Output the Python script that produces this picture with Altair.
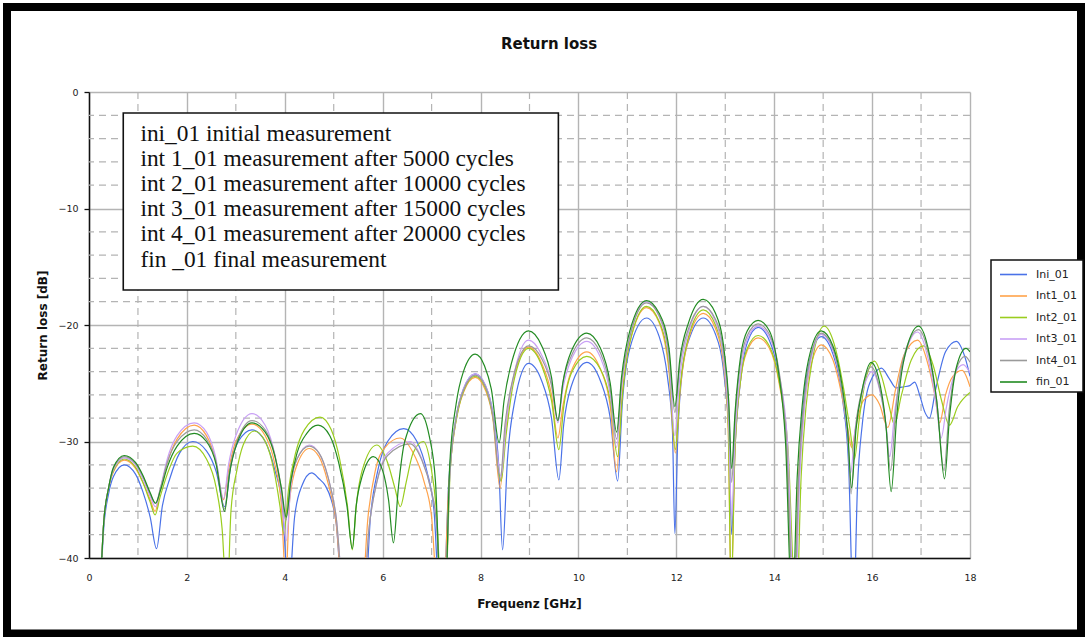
import altair as alt
import pandas as pd

SERIES = ["Ini_01", "Int1_01", "Int2_01", "Int3_01", "Int4_01", "fin_01"]
COLORS = ["#4a72e8", "#ffa24a", "#9acd1e", "#c9a0f5", "#9a9a9a", "#228b22"]

ini_f = [0.22, 0.3, 0.4, 0.5, 0.72, 0.95, 1.1, 1.25, 1.38,
         1.5, 1.65, 1.85, 2.12, 2.4, 2.6, 2.77,
         2.9, 3.05, 3.33, 3.6, 3.8, 3.95, 4.08,
         4.2, 4.35, 4.55, 4.7, 4.83, 4.95, 5.05, 5.17,
         5.62, 5.75, 5.9, 6.1, 6.43, 6.7, 6.9, 7.05, 7.17,
         7.22, 7.35, 7.5, 7.65, 7.89, 8.1, 8.25, 8.37, 8.45,
         8.55, 8.7, 8.98, 9.25, 9.45, 9.6,
         9.7, 9.85, 10.17, 10.45, 10.65, 10.8,
         10.9, 11.05, 11.39, 11.65, 11.82, 11.92, 11.97,
         12.03, 12.12, 12.28, 12.55, 12.8, 12.98, 13.08, 13.13,
         13.2, 13.32, 13.45, 13.67, 13.9, 14.1, 14.25, 14.4,
         14.48, 14.55, 14.7, 14.96, 15.2, 15.4, 15.52, 15.62,
         15.7, 15.8, 15.95, 16.19, 16.35, 16.49, 16.65, 16.77, 16.87, 16.97,
         17.08, 17.17, 17.3, 17.5, 17.72, 17.9, 18.0]
ini_v = [-44, -37.5, -34.5, -33.0, -32.0, -32.8, -34.3, -36.5, -39.2,
         -35.5, -33.2, -31.0, -30.0, -30.8, -32.6, -35.6,
         -32.0, -30.0, -29.0, -30.0, -32.5, -35.5, -43,
         -36.5, -33.8, -32.7, -33.2, -33.8, -35.0, -37.0, -43,
         -45, -36.5, -32.5, -30.0, -28.9, -30.0, -32.5, -36.0, -45,
         -46, -33.5, -28.0, -25.5, -24.2, -25.2, -27.5, -32.0, -39.3,
         -31.5, -26.5, -23.3, -24.8, -28.0, -33.3,
         -28.5, -25.3, -23.2, -24.8, -28.0, -33.4,
         -26.5, -22.0, -19.4, -21.0, -24.5, -29.0, -37.9,
         -29.5, -24.0, -21.0, -19.4, -20.8, -24.5, -30.0, -38.0,
         -30.5, -24.5, -21.5, -20.2, -21.3, -24.5, -30.0, -45,
         -36.0, -29.5, -23.5, -21.0, -22.5, -26.5, -32.0, -45,
         -34.0, -28.5, -25.0, -23.7, -24.6, -25.4, -25.3, -25.2, -24.9, -26.0,
         -27.5, -28.0, -25.5, -22.3, -21.4, -22.8, -24.4]

int1_f = [0.22, 0.3, 0.4, 0.5, 0.72, 0.95, 1.1, 1.25, 1.35,
          1.45, 1.6, 1.8, 2.15, 2.4, 2.58, 2.75,
          2.85, 3.0, 3.33, 3.6, 3.8, 3.93, 4.02,
          4.1, 4.25, 4.5, 4.7, 4.88, 5.05, 5.2,
          5.55, 5.7, 5.85, 6.05, 6.36, 6.6, 6.85, 7.0, 7.14,
          7.22, 7.35, 7.5, 7.65, 7.89, 8.1, 8.25, 8.4,
          8.5, 8.65, 8.98, 9.25, 9.45, 9.58,
          9.68, 9.85, 10.17, 10.45, 10.65, 10.78,
          10.88, 11.05, 11.39, 11.65, 11.85, 11.98,
          12.08, 12.25, 12.55, 12.8, 12.98, 13.06, 13.12,
          13.2, 13.32, 13.45, 13.67, 13.9, 14.1, 14.25, 14.4,
          14.5, 14.6, 14.72, 14.96, 15.2, 15.38, 15.5, 15.58,
          15.68, 15.82, 16.0, 16.15, 16.32, 16.48, 16.65, 16.93, 17.15, 17.28,
          17.38, 17.5, 17.65, 17.84, 18.0]
int1_v = [-44, -37.0, -34.0, -32.6, -31.6, -32.3, -33.5, -35.0, -36.0,
          -34.3, -31.8, -29.8, -28.6, -29.5, -31.5, -35.0,
          -32.5, -30.0, -28.5, -29.5, -32.0, -35.5, -42,
          -35.0, -32.0, -30.6, -31.3, -33.5, -37.0, -44,
          -45, -36.5, -32.5, -30.5, -29.7, -30.8, -33.5, -36.5, -45,
          -46, -33.8, -28.2, -25.8, -24.5, -25.6, -28.0, -34.0,
          -29.5, -25.0, -21.9, -23.3, -26.0, -29.7,
          -27.0, -24.0, -22.3, -23.8, -27.0, -32.6,
          -26.5, -21.5, -18.5, -19.8, -24.0, -31.0,
          -25.5, -21.2, -19.0, -20.3, -24.0, -29.0, -43,
          -30.5, -24.5, -22.2, -21.1, -22.0, -25.0, -30.0, -45,
          -33.0, -27.5, -24.0, -21.7, -23.0, -26.0, -28.8, -30.5,
          -28.5, -26.5, -26.0, -26.8, -28.8, -25.5, -22.6, -21.3, -23.5, -26.0,
          -28.4, -26.0, -24.4, -23.9, -25.3]

int2_f = [0.22, 0.3, 0.4, 0.5, 0.72, 0.95, 1.1, 1.25, 1.35,
          1.45, 1.6, 1.8, 2.12, 2.4, 2.6, 2.72, 2.82,
          2.9, 3.02, 3.15, 3.38, 3.6, 3.78, 3.9, 3.98,
          4.08, 4.22, 4.4, 4.72, 4.95, 5.12, 5.28, 5.38,
          5.46, 5.58, 5.88, 6.1, 6.25, 6.36, 6.48, 6.62, 6.83, 6.98, 7.1, 7.22,
          7.28, 7.38, 7.52, 7.67, 7.89, 8.1, 8.25, 8.42,
          8.52, 8.67, 8.98, 9.25, 9.45, 9.6,
          9.7, 9.87, 10.17, 10.45, 10.65, 10.8,
          10.9, 11.05, 11.39, 11.65, 11.85, 11.98,
          12.08, 12.25, 12.55, 12.8, 12.98, 13.06, 13.12,
          13.2, 13.32, 13.45, 13.67, 13.9, 14.1, 14.28, 14.45,
          14.55, 14.65, 14.78, 15.02, 15.25, 15.42, 15.55, 15.64,
          15.74, 15.88, 16.05, 16.2, 16.35, 16.45, 16.6, 16.8, 17.05, 17.25,
          17.42, 17.58, 17.75, 18.0]
int2_v = [-44, -37.0, -34.0, -32.5, -31.5, -32.2, -33.5, -35.2, -36.3,
          -34.8, -32.8, -31.0, -30.4, -31.5, -34.0, -37.5, -44,
          -36.0, -32.5, -30.3, -29.1, -30.0, -32.5, -35.5, -37.9,
          -34.0, -31.0, -29.0, -27.9, -29.0, -31.5, -35.5, -39.3,
          -35.5, -32.5, -30.3, -31.8, -34.0, -35.6, -33.5, -31.0, -30.0, -32.0, -36.0, -45,
          -44, -32.5, -27.8, -25.5, -24.4, -25.4, -27.8, -33.4,
          -29.5, -25.0, -22.0, -23.5, -26.5, -30.7,
          -27.0, -24.0, -22.7, -23.8, -26.5, -31.3,
          -26.0, -21.5, -18.4, -19.7, -23.5, -30.7,
          -25.2, -21.0, -18.7, -20.0, -23.5, -28.5, -43,
          -30.5, -24.5, -22.0, -20.9, -21.8, -24.8, -30.5, -45,
          -33.0, -27.0, -23.0, -20.1, -22.0, -25.5, -29.0, -31.5,
          -28.0, -24.5, -23.1, -24.5, -27.0, -28.5, -26.0, -23.0, -21.8, -23.5,
          -26.5, -28.6, -27.0, -25.8]

int3_f = [0.22, 0.3, 0.4, 0.5, 0.72, 0.95, 1.1, 1.25, 1.36,
          1.46, 1.6, 1.8, 2.15, 2.4, 2.58, 2.75,
          2.85, 3.0, 3.33, 3.6, 3.8, 3.93, 4.03,
          4.12, 4.25, 4.5, 4.7, 4.88, 5.05, 5.22,
          5.58, 5.72, 5.88, 6.1, 6.56, 6.8, 6.98, 7.1, 7.2,
          7.26, 7.37, 7.5, 7.65, 7.89, 8.1, 8.25, 8.42,
          8.52, 8.67, 8.98, 9.25, 9.45, 9.58,
          9.68, 9.85, 10.17, 10.45, 10.65, 10.78,
          10.88, 11.05, 11.39, 11.65, 11.85, 11.97,
          12.07, 12.25, 12.55, 12.8, 12.98, 13.07, 13.13,
          13.2, 13.32, 13.45, 13.67, 13.9, 14.1, 14.27, 14.42,
          14.52, 14.62, 14.75, 14.96, 15.2, 15.38, 15.5, 15.56,
          15.65, 15.8, 16.0, 16.15, 16.28, 16.36, 16.46, 16.62, 16.93, 17.15,
          17.3, 17.41, 17.52, 17.68, 17.86, 18.0]
int3_v = [-44, -37.0, -34.0, -32.4, -31.4, -32.0, -33.2, -34.7, -35.6,
          -34.0, -31.5, -29.5, -28.4, -29.2, -31.2, -34.9,
          -32.0, -29.5, -27.6, -28.6, -31.2, -34.5, -38.5,
          -34.0, -31.5, -30.3, -31.0, -33.0, -36.5, -44,
          -45, -37.5, -33.5, -31.0, -30.0, -31.5, -34.0, -37.0, -45,
          -45, -33.0, -28.0, -25.5, -24.2, -25.2, -27.5, -33.0,
          -28.5, -24.5, -21.3, -22.6, -25.0, -28.4,
          -25.5, -23.0, -21.4, -22.8, -26.0, -30.5,
          -25.5, -21.0, -18.0, -19.3, -23.0, -29.5,
          -24.5, -20.6, -18.4, -19.7, -23.5, -28.5, -36.5,
          -29.5, -23.8, -21.2, -20.1, -21.0, -24.2, -30.0, -45,
          -33.0, -27.0, -23.0, -20.8, -22.2, -25.5, -29.5, -32.7,
          -29.0, -25.8, -24.0, -25.5, -28.5, -31.3, -27.5, -23.5, -20.6, -23.0,
          -26.5, -29.7, -27.0, -24.3, -23.4, -24.1]

int4_f = [0.22, 0.3, 0.4, 0.5, 0.72, 0.95, 1.1, 1.25, 1.36,
          1.46, 1.6, 1.8, 2.15, 2.4, 2.6, 2.77,
          2.87, 3.02, 3.33, 3.6, 3.8, 3.93, 4.02,
          4.12, 4.25, 4.5, 4.7, 4.88, 5.05, 5.22,
          5.58, 5.72, 5.88, 6.1, 6.56, 6.8, 6.98, 7.1, 7.2,
          7.26, 7.37, 7.5, 7.65, 7.89, 8.1, 8.25, 8.4,
          8.5, 8.65, 8.98, 9.25, 9.45, 9.58,
          9.68, 9.85, 10.17, 10.45, 10.65, 10.78,
          10.88, 11.05, 11.39, 11.65, 11.85, 11.97,
          12.07, 12.25, 12.55, 12.8, 12.98, 13.07, 13.13,
          13.2, 13.32, 13.45, 13.67, 13.9, 14.1, 14.25, 14.4,
          14.5, 14.6, 14.73, 14.96, 15.2, 15.38, 15.5, 15.57,
          15.66, 15.8, 15.98, 16.13, 16.28, 16.38, 16.48, 16.63, 16.95, 17.17,
          17.32, 17.47, 17.57, 17.72, 17.9, 18.0]
int4_v = [-44, -37.0, -34.0, -32.3, -31.3, -31.9, -33.0, -34.5, -35.3,
          -34.0, -31.8, -30.0, -29.0, -29.8, -31.8, -35.8,
          -32.5, -30.0, -28.2, -29.0, -31.2, -34.0, -36.8,
          -33.5, -31.5, -30.4, -31.0, -33.0, -36.5, -44,
          -45, -37.5, -33.5, -31.2, -30.2, -31.6, -34.0, -37.0, -45,
          -45, -33.0, -28.0, -25.6, -24.3, -25.3, -27.8, -33.4,
          -28.5, -24.8, -21.8, -22.9, -25.2, -28.2,
          -25.0, -22.7, -21.1, -22.4, -25.5, -29.8,
          -25.0, -21.0, -18.1, -19.2, -22.5, -27.5,
          -23.5, -20.3, -18.4, -19.5, -22.8, -27.0, -33.5,
          -28.0, -23.0, -20.9, -19.9, -20.8, -24.0, -30.0, -45,
          -33.0, -27.0, -23.0, -20.7, -22.0, -25.5, -29.5, -34.5,
          -29.0, -25.5, -23.6, -25.0, -28.5, -32.5, -27.5, -23.0, -20.4, -22.8,
          -26.5, -32.5, -27.5, -23.8, -22.7, -23.2]

fin_f = [0.22, 0.3, 0.4, 0.5, 0.72, 0.95, 1.1, 1.25, 1.36,
         1.46, 1.6, 1.8, 2.15, 2.4, 2.6, 2.77,
         2.87, 3.02, 3.33, 3.6, 3.8, 3.93, 4.03,
         4.12, 4.25, 4.45, 4.68, 4.92, 5.1, 5.27, 5.38,
         5.46, 5.58, 5.81, 6.0, 6.12, 6.22, 6.32, 6.45, 6.77, 6.95, 7.08, 7.2,
         7.27, 7.37, 7.5, 7.65, 7.89, 8.08, 8.22, 8.38,
         8.48, 8.63, 8.98, 9.25, 9.45, 9.58,
         9.68, 9.85, 10.17, 10.45, 10.65, 10.78,
         10.88, 11.05, 11.39, 11.65, 11.85, 11.97,
         12.07, 12.25, 12.55, 12.8, 12.98, 13.07, 13.13,
         13.2, 13.32, 13.45, 13.67, 13.9, 14.08, 14.23, 14.37,
         14.47, 14.57, 14.7, 14.96, 15.2, 15.38, 15.5, 15.58,
         15.67, 15.8, 15.98, 16.13, 16.28, 16.39, 16.5, 16.65, 16.95, 17.17,
         17.32, 17.48, 17.58, 17.73, 17.92, 18.0]
fin_v = [-44, -37.0, -34.0, -32.2, -31.2, -31.8, -32.9, -34.4, -35.3,
         -34.2, -32.2, -30.4, -29.3, -30.0, -32.0, -36.0,
         -32.8, -30.2, -28.4, -29.2, -31.3, -34.0, -36.5,
         -33.5, -31.0, -29.3, -28.6, -29.5, -31.8, -35.5, -39.2,
         -35.5, -33.0, -31.3, -32.5, -35.0, -38.7, -34.0, -30.0, -27.6, -29.5, -33.5, -45,
         -45, -32.0, -26.8, -24.0, -22.5, -23.5, -25.5, -30.1,
         -26.5, -23.3, -20.5, -21.8, -24.5, -28.2,
         -25.0, -22.3, -20.7, -22.0, -25.0, -29.2,
         -24.5, -20.5, -17.9, -19.0, -22.0, -27.0,
         -23.0, -19.8, -17.8, -19.0, -22.3, -26.5, -32.3,
         -27.5, -22.5, -20.5, -19.6, -20.5, -23.8, -30.0, -45,
         -33.0, -27.0, -23.0, -20.5, -21.8, -25.0, -29.0, -34.0,
         -29.0, -25.5, -23.2, -24.5, -28.5, -34.3, -28.0, -23.0, -20.1, -22.5,
         -26.5, -33.2, -28.0, -23.5, -22.0, -22.3]

NOTE_LINES = [
    "ini_01 initial measurement",
    "int 1_01 measurement after 5000 cycles",
    "int 2_01 measurement after 10000 cycles",
    "int 3_01 measurement after 15000 cycles",
    "int 4_01 measurement after 20000 cycles",
    "fin _01 final measurement",
]
NOTE_Y = [-4.18, -6.35, -8.5, -10.67, -12.83, -15.0]
NOTE_X = 1.05
NOTE_BOX = {"x0": 0.70, "x1": 9.59, "y0": -1.8, "y1": -17.0}

X_MAJOR = [0, 2, 4, 6, 8, 10, 12, 14, 16, 18]
X_MINOR = [1, 3, 5, 7, 9, 11, 13, 15, 17]
Y_MAJOR = [0, -10, -20, -30, -40]
Y_MINOR = [-2, -4, -6, -8, -12, -14, -16, -18, -22, -24, -26, -28,
           -32, -34, -36, -38]

all_f = [ini_f, int1_f, int2_f, int3_f, int4_f, fin_f]
all_v = [ini_v, int1_v, int2_v, int3_v, int4_v, fin_v]
rows = []
for name, fs, vs in zip(SERIES, all_f, all_v):
    if len(fs) != len(vs):
        raise ValueError(f"length mismatch in {name}: {len(fs)} vs {len(vs)}")
    for f, v in zip(fs, vs):
        rows.append({"series": name, "f": f, "v": v})
df = pd.DataFrame(rows)

SANS = "DejaVu Sans"
xs = alt.Scale(domain=[0, 18], nice=False, zero=False)
ys = alt.Scale(domain=[-40, 0], nice=False, zero=False)

X_AXIS = alt.Axis(
    values=X_MAJOR, grid=True, gridColor="#b4b4b4", gridWidth=1.4,
    domainColor="#111111", domainWidth=1.5, ticks=False, tickSize=0,
    labelFlush=False,
    labelFont=SANS, labelFontSize=9.5, labelColor="#222222", labelPadding=14,
    title="Frequenz [GHz]", titleFont=SANS, titleFontSize=12,
    titleFontWeight="bold", titleColor="#111111",
    titleX=440, titleY=45, titleBaseline="middle", titleAlign="center")
Y_AXIS = alt.Axis(
    values=Y_MAJOR, grid=True, gridColor="#b4b4b4", gridWidth=1.4,
    domainColor="#111111", domainWidth=1.5, ticks=True, tickSize=5,
    tickColor="#111111", tickWidth=1.3, labelFlush=False,
    labelFont=SANS, labelFontSize=9.5, labelColor="#222222", labelPadding=6,
    title="Return loss [dB]", titleFont=SANS, titleFontSize=12,
    titleFontWeight="bold", titleColor="#111111", titleAngle=270,
    titleX=-47, titleY=233, titleBaseline="middle", titleAlign="center")

lines = alt.Chart(df).mark_line(
    clip=True, interpolate="monotone", strokeWidth=1.2
).encode(
    x=alt.X("f:Q", scale=xs, axis=X_AXIS),
    y=alt.Y("v:Q", scale=ys, axis=Y_AXIS),
    color=alt.Color("series:N", title=None,
                    scale=alt.Scale(domain=SERIES, range=COLORS),
                    legend=alt.Legend(
                        orient="none", legendX=902, legendY=168,
                        symbolType="M-1.59,0H1.59", symbolSize=289,
                        symbolStrokeWidth=1.6, symbolOffset=8,
                        labelOffset=13, labelFont=SANS, labelFontSize=11,
                        labelColor="#222222", padding=5, rowPadding=6.5,
                        strokeColor="#111111", fillColor="white")),
)

grid_x = alt.Chart(pd.DataFrame({"f": X_MINOR})).mark_rule(
    color="#b4b4b4", strokeWidth=1.2, strokeDash=[7, 5]
).encode(x=alt.X("f:Q", scale=xs, axis=X_AXIS))

grid_y = alt.Chart(pd.DataFrame({"v": Y_MINOR})).mark_rule(
    color="#b4b4b4", strokeWidth=1.2, strokeDash=[7, 5]
).encode(y=alt.Y("v:Q", scale=ys, axis=Y_AXIS))

box = alt.Chart(pd.DataFrame([NOTE_BOX])).mark_rect(
    fill="white", stroke="#111111", strokeWidth=1.6
).encode(
    x=alt.X("x0:Q", scale=xs, axis=X_AXIS), x2="x1:Q",
    y=alt.Y("y0:Q", scale=ys, axis=Y_AXIS), y2="y1:Q",
)

notes = alt.Chart(pd.DataFrame({"t": NOTE_LINES, "y": NOTE_Y,
                                "x": [NOTE_X] * len(NOTE_LINES)})).mark_text(
    align="left", baseline="alphabetic", font="Liberation Serif",
    fontSize=23.4, color="#111111"
).encode(
    x=alt.X("x:Q", scale=xs, axis=X_AXIS),
    y=alt.Y("y:Q", scale=ys, axis=Y_AXIS),
    text="t:N",
)

title = alt.Chart(pd.DataFrame({"t": ["Return loss"]})).mark_text(
    font=SANS, fontSize=15, fontWeight="bold", color="#111111",
    align="center", baseline="middle"
).encode(x=alt.value(460), y=alt.value(-48.5), text="t:N")

frame = alt.Chart(pd.DataFrame({"k": [1]})).mark_rect(
    filled=False, stroke="#000000", strokeWidth=8
).encode(x=alt.value(-82), x2=alt.value(992), y=alt.value(-85),
         y2=alt.value(541.5))

chart = alt.layer(grid_x, grid_y, lines, box, notes, title, frame).properties(
    width=881, height=466,
    padding={"left": 89, "top": 92, "right": 115, "bottom": 79},
    autosize=alt.AutoSizeParams(type="none"),
    background="white",
).configure_view(stroke=None).configure_legend(strokeWidth=1.5)

chart.save("out.html", embed_options={"renderer": "svg", "actions": False})
